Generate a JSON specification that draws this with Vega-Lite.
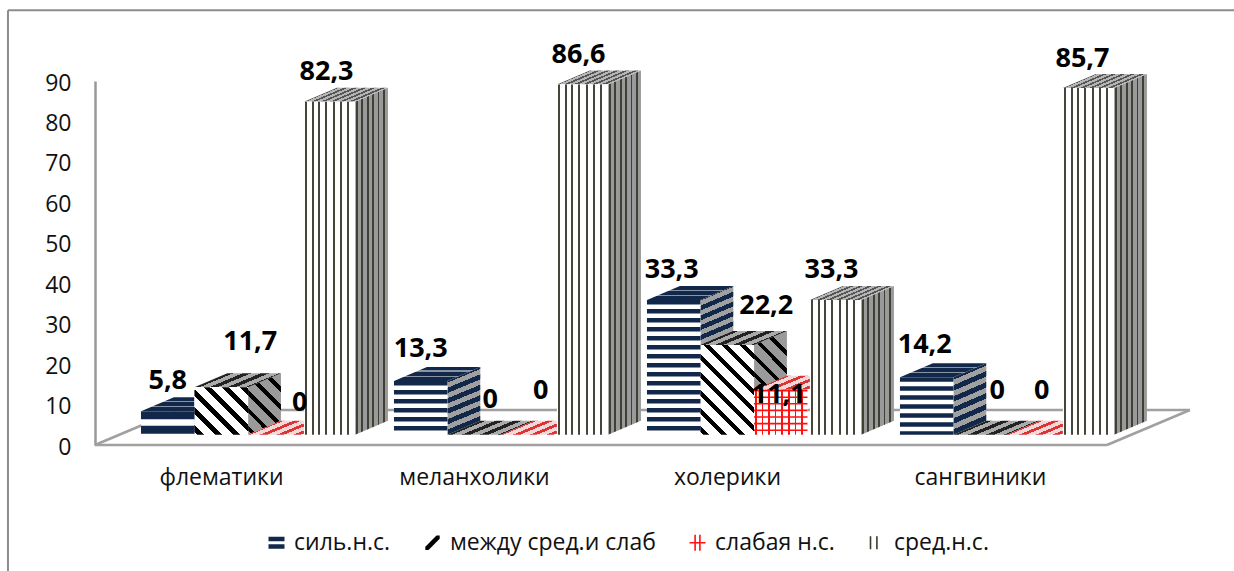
{
"$schema":"https://vega.github.io/schema/vega-lite/v6.json",
"width":1100,"height":364,"autosize":{"type":"none"},
"padding":{"left":95,"top":81,"right":39,"bottom":126},
"background":"white",
"config":{"view":{"stroke":null},"font":"Open Sans"},
"data":{"values":[
{"category":"флематики","series":"силь.н.с.","value":5.8},
{"category":"флематики","series":"между сред.и слаб","value":11.7},
{"category":"флематики","series":"слабая н.с.","value":0},
{"category":"флематики","series":"сред.н.с.","value":82.3},
{"category":"меланхолики","series":"силь.н.с.","value":13.3},
{"category":"меланхолики","series":"между сред.и слаб","value":0},
{"category":"меланхолики","series":"слабая н.с.","value":0},
{"category":"меланхолики","series":"сред.н.с.","value":86.6},
{"category":"холерики","series":"силь.н.с.","value":33.3},
{"category":"холерики","series":"между сред.и слаб","value":22.2},
{"category":"холерики","series":"слабая н.с.","value":11.1},
{"category":"холерики","series":"сред.н.с.","value":33.3},
{"category":"сангвиники","series":"силь.н.с.","value":14.2},
{"category":"сангвиники","series":"между сред.и слаб","value":0},
{"category":"сангвиники","series":"слабая н.с.","value":0},
{"category":"сангвиники","series":"сред.н.с.","value":85.7}
]},
"transform":[
{"calculate":"indexof(['флематики','меланхолики','холерики','сангвиники'],datum.category)","as":"ci"},
{"calculate":"indexof(['силь.н.с.','между сред.и слаб','слабая н.с.','сред.н.с.'],datum.series)","as":"si"},
{"calculate":"datum.ci+[-0.316,-0.105,0.107,0.328][datum.si]","as":"x0"},
{"calculate":"datum.ci+[-0.105,0.107,0.318,0.530][datum.si]","as":"x1"},
{"calculate":"datum.value+2.55","as":"top"},
{"calculate":"2.55","as":"base"},
{"calculate":"(datum.x0+datum.x1)/2","as":"cx"},
{"calculate":"replace(''+datum.value,'.',',')","as":"label"},
{"calculate":"datum.cx+[[0,29,25,-3],[0,16,13,-4],[-2,39,-2,-4],[-2,17,8,-6]][datum.ci][datum.si]/253","as":"lx"},
{"calculate":"datum.top+[[30,45,32,30],[32,35,44,29.5],[30,39,-5,30],[32,44,44,29]][datum.ci][datum.si]/4.044","as":"ly"}
],
"layer":[
{"data":{"values":[{}]},"mark":{"type":"rule","stroke":"#8c8c8c","strokeWidth":2},"encoding":{
"x":{"datum":-0.842,"type":"quantitative","scale":{"domain":[-0.498,3.85],"nice":false,"zero":false},
"axis":{"title":null,"values":[0,1,2,3],"labelExpr":"['флематики','меланхолики','холерики','сангвиники'][datum.value]","ticks":false,"domain":false,"grid":false,"labelPadding":21,"labelFontSize":23,"labelColor":"#111","labelFont":"Open Sans","labelOverlap":false,"labelBound":false,"labelFlush":false}},
"y":{"datum":107.5,"type":"quantitative","scale":{"domain":[0,90],"nice":false,"zero":false},
"axis":{"title":null,"values":[0,10,20,30,40,50,60,70,80,90],"ticks":false,"domain":true,"domainColor":"#999","domainWidth":2.5,"grid":false,"labelPadding":24,"labelFontSize":23,"labelOffset":2,"labelColor":"#111","labelFont":"Open Sans"}},
"x2":{"datum":4.1},"y2":{"datum":107.5}}},
{"data":{"values":[{}]},"mark":{"type":"rule","stroke":"#8c8c8c","strokeWidth":2},"encoding":{"x":{"datum":-0.842,"type":"quantitative"},"x2":{"datum":-0.842},"y":{"datum":107.5,"type":"quantitative"},"y2":{"datum":-32}}},
{"data":{"values":[{}]},"mark":{"type":"rule","stroke":"#a0a0a0","strokeWidth":2.5},"encoding":{"x":{"datum":-0.498,"type":"quantitative"},"x2":{"datum":3.502},"y":{"datum":0,"type":"quantitative"},"y2":{"datum":0}}},
{"data":{"values":[{}]},"mark":{"type":"rule","stroke":"#a0a0a0","strokeWidth":2.5},"encoding":{"x":{"datum":3.502,"type":"quantitative"},"x2":{"datum":3.83},"y":{"datum":0,"type":"quantitative"},"y2":{"datum":8.66}}},
{"data":{"values":[{}]},"mark":{"type":"rule","stroke":"#a0a0a0","strokeWidth":2.5},"encoding":{"x":{"datum":-0.17,"type":"quantitative"},"x2":{"datum":3.83},"y":{"datum":8.66,"type":"quantitative"},"y2":{"datum":8.66}}},
{"data":{"values":[{}]},"mark":{"type":"rule","stroke":"#a0a0a0","strokeWidth":2.5},"encoding":{"x":{"datum":-0.498,"type":"quantitative"},"x2":{"datum":-0.17},"y":{"datum":0,"type":"quantitative"},"y2":{"datum":8.66}}},

{"transform":[{"calculate":"[0,1]","as":"t"},{"flatten":["t"]},{"calculate":"datum.x1+datum.t*0.13","as":"X"},{"calculate":"datum.base+datum.t*3.46","as":"Ya"},{"calculate":"datum.top+datum.t*3.46","as":"Yb"}],
"encoding":{"x":{"field":"X","type":"quantitative"},"y":{"field":"Yb","type":"quantitative"},"y2":{"field":"Ya"},"detail":[{"field":"category"},{"field":"series"}]},
"layer":[
{"transform":[{"filter":"datum.si==0&&datum.value<10"}],"mark":{"type":"area","orient":"vertical","fill":"#12284a"}},
{"transform":[{"filter":"datum.si==0&&datum.value>10&&datum.value<20"}],"mark":{"type":"area","orient":"vertical","fill":{"gradient":"linear","x1":0,"y1":0,"x2":0.231,"y2":1.154,"stops":[
{"offset":0,"color":"#12284a"},{"offset":0.064,"color":"#12284a"},{"offset":0.064,"color":"#a0a0a0"},{"offset":0.129,"color":"#a0a0a0"},{"offset":0.129,"color":"#12284a"},{"offset":0.193,"color":"#12284a"},{"offset":0.193,"color":"#a0a0a0"},{"offset":0.257,"color":"#a0a0a0"},{"offset":0.257,"color":"#12284a"},{"offset":0.321,"color":"#12284a"},{"offset":0.321,"color":"#a0a0a0"},{"offset":0.386,"color":"#a0a0a0"},{"offset":0.386,"color":"#12284a"},{"offset":0.45,"color":"#12284a"},{"offset":0.45,"color":"#a0a0a0"},{"offset":0.514,"color":"#a0a0a0"},{"offset":0.514,"color":"#12284a"},{"offset":0.578,"color":"#12284a"},{"offset":0.578,"color":"#a0a0a0"},{"offset":0.643,"color":"#a0a0a0"},{"offset":0.643,"color":"#12284a"},{"offset":0.707,"color":"#12284a"},{"offset":0.707,"color":"#a0a0a0"},{"offset":0.771,"color":"#a0a0a0"},{"offset":0.771,"color":"#12284a"},{"offset":0.836,"color":"#12284a"},{"offset":0.836,"color":"#a0a0a0"},{"offset":0.9,"color":"#a0a0a0"},{"offset":0.9,"color":"#12284a"},{"offset":0.964,"color":"#12284a"},{"offset":0.964,"color":"#a0a0a0"}]}}},
{"transform":[{"filter":"datum.si==0&&datum.value>20"}],"mark":{"type":"area","orient":"vertical","fill":{"gradient":"linear","x1":0,"y1":0,"x2":0.102,"y2":1.084,"stops":[
{"offset":0,"color":"#12284a"},{"offset":0.03,"color":"#12284a"},{"offset":0.03,"color":"#a0a0a0"},{"offset":0.0605,"color":"#a0a0a0"},{"offset":0.0605,"color":"#12284a"},{"offset":0.0905,"color":"#12284a"},{"offset":0.0905,"color":"#a0a0a0"},{"offset":0.121,"color":"#a0a0a0"},{"offset":0.121,"color":"#12284a"},{"offset":0.151,"color":"#12284a"},{"offset":0.151,"color":"#a0a0a0"},{"offset":0.1815,"color":"#a0a0a0"},{"offset":0.1815,"color":"#12284a"},{"offset":0.2115,"color":"#12284a"},{"offset":0.2115,"color":"#a0a0a0"},{"offset":0.242,"color":"#a0a0a0"},{"offset":0.242,"color":"#12284a"},{"offset":0.272,"color":"#12284a"},{"offset":0.272,"color":"#a0a0a0"},{"offset":0.3025,"color":"#a0a0a0"},{"offset":0.3025,"color":"#12284a"},{"offset":0.3325,"color":"#12284a"},{"offset":0.3325,"color":"#a0a0a0"},{"offset":0.363,"color":"#a0a0a0"},{"offset":0.363,"color":"#12284a"},{"offset":0.393,"color":"#12284a"},{"offset":0.393,"color":"#a0a0a0"},{"offset":0.4235,"color":"#a0a0a0"},{"offset":0.4235,"color":"#12284a"},{"offset":0.4535,"color":"#12284a"},{"offset":0.4535,"color":"#a0a0a0"},{"offset":0.484,"color":"#a0a0a0"},{"offset":0.484,"color":"#12284a"},{"offset":0.514,"color":"#12284a"},{"offset":0.514,"color":"#a0a0a0"},{"offset":0.5445,"color":"#a0a0a0"},{"offset":0.5445,"color":"#12284a"},{"offset":0.5745,"color":"#12284a"},{"offset":0.5745,"color":"#a0a0a0"},{"offset":0.605,"color":"#a0a0a0"},{"offset":0.605,"color":"#12284a"},{"offset":0.635,"color":"#12284a"},{"offset":0.635,"color":"#a0a0a0"},{"offset":0.6655,"color":"#a0a0a0"},{"offset":0.6655,"color":"#12284a"},{"offset":0.6955,"color":"#12284a"},{"offset":0.6955,"color":"#a0a0a0"},{"offset":0.726,"color":"#a0a0a0"},{"offset":0.726,"color":"#12284a"},{"offset":0.756,"color":"#12284a"},{"offset":0.756,"color":"#a0a0a0"},{"offset":0.7865,"color":"#a0a0a0"},{"offset":0.7865,"color":"#12284a"},{"offset":0.8165,"color":"#12284a"},{"offset":0.8165,"color":"#a0a0a0"},{"offset":0.847,"color":"#a0a0a0"},{"offset":0.847,"color":"#12284a"},{"offset":0.877,"color":"#12284a"},{"offset":0.877,"color":"#a0a0a0"},{"offset":0.9075,"color":"#a0a0a0"},{"offset":0.9075,"color":"#12284a"},{"offset":0.9375,"color":"#12284a"},{"offset":0.9375,"color":"#a0a0a0"},{"offset":0.968,"color":"#a0a0a0"},{"offset":0.968,"color":"#12284a"}]}}},
{"transform":[{"filter":"datum.si==1&&datum.value>0&&datum.value<20"}],"mark":{"type":"area","orient":"vertical","fill":{"gradient":"linear","x1":0.179,"y1":1.097,"x2":0.821,"y2":-0.097,"stops":[
{"offset":0.04,"color":"#9a9a9a"},{"offset":0.04,"color":"#000"},{"offset":0.1,"color":"#000"},{"offset":0.1,"color":"#9a9a9a"},{"offset":0.23,"color":"#9a9a9a"},{"offset":0.23,"color":"#000"},{"offset":0.29,"color":"#000"},{"offset":0.29,"color":"#9a9a9a"},{"offset":0.42,"color":"#9a9a9a"},{"offset":0.42,"color":"#000"},{"offset":0.48,"color":"#000"},{"offset":0.48,"color":"#9a9a9a"},{"offset":0.61,"color":"#9a9a9a"},{"offset":0.61,"color":"#000"},{"offset":0.67,"color":"#000"},{"offset":0.67,"color":"#9a9a9a"},{"offset":0.8,"color":"#9a9a9a"},{"offset":0.8,"color":"#000"},{"offset":0.86,"color":"#000"},{"offset":0.86,"color":"#9a9a9a"}]}}},
{"transform":[{"filter":"datum.si==1&&datum.value>20"}],"mark":{"type":"area","orient":"vertical","fill":{"gradient":"linear","x1":0.31,"y1":1.099,"x2":0.69,"y2":-0.099,"stops":[
{"offset":0.03,"color":"#9a9a9a"},{"offset":0.03,"color":"#000"},{"offset":0.071,"color":"#000"},{"offset":0.071,"color":"#9a9a9a"},{"offset":0.161,"color":"#9a9a9a"},{"offset":0.161,"color":"#000"},{"offset":0.202,"color":"#000"},{"offset":0.202,"color":"#9a9a9a"},{"offset":0.292,"color":"#9a9a9a"},{"offset":0.292,"color":"#000"},{"offset":0.333,"color":"#000"},{"offset":0.333,"color":"#9a9a9a"},{"offset":0.423,"color":"#9a9a9a"},{"offset":0.423,"color":"#000"},{"offset":0.464,"color":"#000"},{"offset":0.464,"color":"#9a9a9a"},{"offset":0.554,"color":"#9a9a9a"},{"offset":0.554,"color":"#000"},{"offset":0.595,"color":"#000"},{"offset":0.595,"color":"#9a9a9a"},{"offset":0.685,"color":"#9a9a9a"},{"offset":0.685,"color":"#000"},{"offset":0.726,"color":"#000"},{"offset":0.726,"color":"#9a9a9a"},{"offset":0.816,"color":"#9a9a9a"},{"offset":0.816,"color":"#000"},{"offset":0.857,"color":"#000"},{"offset":0.857,"color":"#9a9a9a"}]}}},
{"transform":[{"filter":"datum.si==3"}],"mark":{"type":"area","orient":"vertical","fill":{"gradient":"linear","x1":0,"y1":0,"x2":1,"y2":0,"stops":[
{"offset":0.03,"color":"#9a9a9a"},{"offset":0.03,"color":"#3f3f35"},{"offset":0.085,"color":"#3f3f35"},{"offset":0.085,"color":"#9a9a9a"},{"offset":0.194,"color":"#9a9a9a"},{"offset":0.194,"color":"#3f3f35"},{"offset":0.249,"color":"#3f3f35"},{"offset":0.249,"color":"#9a9a9a"},{"offset":0.358,"color":"#9a9a9a"},{"offset":0.358,"color":"#3f3f35"},{"offset":0.413,"color":"#3f3f35"},{"offset":0.413,"color":"#9a9a9a"},{"offset":0.522,"color":"#9a9a9a"},{"offset":0.522,"color":"#3f3f35"},{"offset":0.577,"color":"#3f3f35"},{"offset":0.577,"color":"#9a9a9a"},{"offset":0.686,"color":"#9a9a9a"},{"offset":0.686,"color":"#3f3f35"},{"offset":0.741,"color":"#3f3f35"},{"offset":0.741,"color":"#9a9a9a"},{"offset":0.85,"color":"#9a9a9a"},{"offset":0.85,"color":"#3f3f35"},{"offset":0.905,"color":"#3f3f35"},{"offset":0.905,"color":"#9a9a9a"}]}}}
]},

{"transform":[{"calculate":"[0,1]","as":"t"},{"flatten":["t"]},{"calculate":"datum.x0+datum.t*0.13","as":"Xa"},{"calculate":"datum.x1+datum.t*0.13","as":"Xb"},{"calculate":"datum.top+datum.t*3.46","as":"Y"}],
"encoding":{"x":{"field":"Xa","type":"quantitative"},"x2":{"field":"Xb"},"y":{"field":"Y","type":"quantitative"},"detail":[{"field":"category"},{"field":"series"}]},
"layer":[
{"transform":[{"filter":"datum.si==0"}],"mark":{"type":"area","orient":"horizontal","fill":{"gradient":"linear","x1":0,"y1":0,"x2":0,"y2":1,"stops":[
{"offset":0.25,"color":"#12284a"},{"offset":0.25,"color":"#8a93a3"},{"offset":0.33,"color":"#8a93a3"},{"offset":0.33,"color":"#12284a"},{"offset":0.62,"color":"#12284a"},{"offset":0.62,"color":"#8a93a3"},{"offset":0.7,"color":"#8a93a3"},{"offset":0.7,"color":"#12284a"}]}}},
{"transform":[{"filter":"datum.si==1"}],"mark":{"type":"area","orient":"horizontal","fill":{"gradient":"linear","x1":0,"y1":0,"x2":1.207,"y2":0.471,"stops":[
{"offset":0.1,"color":"#aaa"},{"offset":0.1,"color":"#222"},{"offset":0.17,"color":"#222"},{"offset":0.17,"color":"#aaa"},{"offset":0.25,"color":"#aaa"},{"offset":0.25,"color":"#222"},{"offset":0.32,"color":"#222"},{"offset":0.32,"color":"#aaa"},{"offset":0.4,"color":"#aaa"},{"offset":0.4,"color":"#222"},{"offset":0.47,"color":"#222"},{"offset":0.47,"color":"#aaa"},{"offset":0.55,"color":"#aaa"},{"offset":0.55,"color":"#222"},{"offset":0.62,"color":"#222"},{"offset":0.62,"color":"#aaa"},{"offset":0.7,"color":"#aaa"},{"offset":0.7,"color":"#222"},{"offset":0.77,"color":"#222"},{"offset":0.77,"color":"#aaa"},{"offset":0.85,"color":"#aaa"},{"offset":0.85,"color":"#222"},{"offset":0.92,"color":"#222"},{"offset":0.92,"color":"#aaa"}]}}},
{"transform":[{"filter":"datum.si==2"}],"mark":{"type":"area","orient":"horizontal","fill":{"gradient":"linear","x1":0,"y1":0,"x2":1.207,"y2":0.471,"stops":[
{"offset":0.1,"color":"#f2d8d8"},{"offset":0.1,"color":"#d33"},{"offset":0.16,"color":"#d33"},{"offset":0.16,"color":"#f2d8d8"},{"offset":0.24,"color":"#f2d8d8"},{"offset":0.24,"color":"#d33"},{"offset":0.3,"color":"#d33"},{"offset":0.3,"color":"#f2d8d8"},{"offset":0.38,"color":"#f2d8d8"},{"offset":0.38,"color":"#d33"},{"offset":0.44,"color":"#d33"},{"offset":0.44,"color":"#f2d8d8"},{"offset":0.52,"color":"#f2d8d8"},{"offset":0.52,"color":"#d33"},{"offset":0.58,"color":"#d33"},{"offset":0.58,"color":"#f2d8d8"},{"offset":0.66,"color":"#f2d8d8"},{"offset":0.66,"color":"#d33"},{"offset":0.72,"color":"#d33"},{"offset":0.72,"color":"#f2d8d8"},{"offset":0.8,"color":"#f2d8d8"},{"offset":0.8,"color":"#d33"},{"offset":0.86,"color":"#d33"},{"offset":0.86,"color":"#f2d8d8"}]}}},
{"transform":[{"filter":"datum.si==3"}],"mark":{"type":"area","orient":"horizontal","fill":{"gradient":"linear","x1":0,"y1":0,"x2":1.207,"y2":0.471,"stops":[
{"offset":0.1,"color":"#b5b5b5"},{"offset":0.1,"color":"#555"},{"offset":0.135,"color":"#555"},{"offset":0.135,"color":"#b5b5b5"},{"offset":0.18,"color":"#b5b5b5"},{"offset":0.18,"color":"#555"},{"offset":0.215,"color":"#555"},{"offset":0.215,"color":"#b5b5b5"},{"offset":0.26,"color":"#b5b5b5"},{"offset":0.26,"color":"#555"},{"offset":0.295,"color":"#555"},{"offset":0.295,"color":"#b5b5b5"},{"offset":0.34,"color":"#b5b5b5"},{"offset":0.34,"color":"#555"},{"offset":0.375,"color":"#555"},{"offset":0.375,"color":"#b5b5b5"},{"offset":0.42,"color":"#b5b5b5"},{"offset":0.42,"color":"#555"},{"offset":0.455,"color":"#555"},{"offset":0.455,"color":"#b5b5b5"},{"offset":0.5,"color":"#b5b5b5"},{"offset":0.5,"color":"#555"},{"offset":0.535,"color":"#555"},{"offset":0.535,"color":"#b5b5b5"},{"offset":0.58,"color":"#b5b5b5"},{"offset":0.58,"color":"#555"},{"offset":0.615,"color":"#555"},{"offset":0.615,"color":"#b5b5b5"},{"offset":0.66,"color":"#b5b5b5"},{"offset":0.66,"color":"#555"},{"offset":0.695,"color":"#555"},{"offset":0.695,"color":"#b5b5b5"},{"offset":0.74,"color":"#b5b5b5"},{"offset":0.74,"color":"#555"},{"offset":0.775,"color":"#555"},{"offset":0.775,"color":"#b5b5b5"},{"offset":0.82,"color":"#b5b5b5"},{"offset":0.82,"color":"#555"},{"offset":0.855,"color":"#555"},{"offset":0.855,"color":"#b5b5b5"}]}}}
]},

{"transform":[{"filter":"datum.value>0"}],
"encoding":{"x":{"field":"x0","type":"quantitative"},"x2":{"field":"x1"},"y":{"field":"top","type":"quantitative"},"y2":{"field":"base"}},
"layer":[
{"mark":{"type":"rect","fill":"#fff"}},
{"transform":[{"filter":"datum.si==1&&datum.value<20"}],"mark":{"type":"rect","fill":{"gradient":"linear","x1":-0.029,"y1":0.968,"x2":1.029,"y2":0.032,"stops":[
{"offset":0.03,"color":"#fff"},{"offset":0.03,"color":"#000"},{"offset":0.093,"color":"#000"},{"offset":0.093,"color":"#fff"},{"offset":0.208,"color":"#fff"},{"offset":0.208,"color":"#000"},{"offset":0.271,"color":"#000"},{"offset":0.271,"color":"#fff"},{"offset":0.386,"color":"#fff"},{"offset":0.386,"color":"#000"},{"offset":0.449,"color":"#000"},{"offset":0.449,"color":"#fff"},{"offset":0.564,"color":"#fff"},{"offset":0.564,"color":"#000"},{"offset":0.627,"color":"#000"},{"offset":0.627,"color":"#fff"},{"offset":0.742,"color":"#fff"},{"offset":0.742,"color":"#000"},{"offset":0.805,"color":"#000"},{"offset":0.805,"color":"#fff"},{"offset":0.92,"color":"#fff"},{"offset":0.92,"color":"#000"},{"offset":0.983,"color":"#000"},{"offset":0.983,"color":"#fff"}]}}},
{"transform":[{"filter":"datum.si==1&&datum.value>20"}],"mark":{"type":"rect","fill":{"gradient":"linear","x1":0.149,"y1":1.089,"x2":0.851,"y2":-0.089,"stops":[
{"offset":0.02,"color":"#fff"},{"offset":0.02,"color":"#000"},{"offset":0.064,"color":"#000"},{"offset":0.064,"color":"#fff"},{"offset":0.145,"color":"#fff"},{"offset":0.145,"color":"#000"},{"offset":0.189,"color":"#000"},{"offset":0.189,"color":"#fff"},{"offset":0.27,"color":"#fff"},{"offset":0.27,"color":"#000"},{"offset":0.314,"color":"#000"},{"offset":0.314,"color":"#fff"},{"offset":0.395,"color":"#fff"},{"offset":0.395,"color":"#000"},{"offset":0.439,"color":"#000"},{"offset":0.439,"color":"#fff"},{"offset":0.52,"color":"#fff"},{"offset":0.52,"color":"#000"},{"offset":0.564,"color":"#000"},{"offset":0.564,"color":"#fff"},{"offset":0.645,"color":"#fff"},{"offset":0.645,"color":"#000"},{"offset":0.689,"color":"#000"},{"offset":0.689,"color":"#fff"},{"offset":0.77,"color":"#fff"},{"offset":0.77,"color":"#000"},{"offset":0.814,"color":"#000"},{"offset":0.814,"color":"#fff"},{"offset":0.895,"color":"#fff"},{"offset":0.895,"color":"#000"},{"offset":0.939,"color":"#000"},{"offset":0.939,"color":"#fff"}]}}},
{"transform":[{"filter":"datum.si==2"}],"mark":{"type":"rect","fill":{"gradient":"linear","x1":0,"y1":0,"x2":1,"y2":0,"stops":[
{"offset":0.02,"color":"#fff"},{"offset":0.02,"color":"#f11"},{"offset":0.05,"color":"#f11"},{"offset":0.05,"color":"#fff"},{"offset":0.143,"color":"#fff"},{"offset":0.143,"color":"#f11"},{"offset":0.173,"color":"#f11"},{"offset":0.173,"color":"#fff"},{"offset":0.266,"color":"#fff"},{"offset":0.266,"color":"#f11"},{"offset":0.296,"color":"#f11"},{"offset":0.296,"color":"#fff"},{"offset":0.389,"color":"#fff"},{"offset":0.389,"color":"#f11"},{"offset":0.419,"color":"#f11"},{"offset":0.419,"color":"#fff"},{"offset":0.512,"color":"#fff"},{"offset":0.512,"color":"#f11"},{"offset":0.542,"color":"#f11"},{"offset":0.542,"color":"#fff"},{"offset":0.635,"color":"#fff"},{"offset":0.635,"color":"#f11"},{"offset":0.665,"color":"#f11"},{"offset":0.665,"color":"#fff"},{"offset":0.758,"color":"#fff"},{"offset":0.758,"color":"#f11"},{"offset":0.788,"color":"#f11"},{"offset":0.788,"color":"#fff"},{"offset":0.881,"color":"#fff"},{"offset":0.881,"color":"#f11"},{"offset":0.911,"color":"#f11"},{"offset":0.911,"color":"#fff"}]}}},
{"transform":[{"filter":"datum.si==3"}],"mark":{"type":"rect","fill":{"gradient":"linear","x1":0,"y1":0,"x2":1,"y2":0,"stops":[
{"offset":0.02,"color":"#fff"},{"offset":0.02,"color":"#45453a"},{"offset":0.06,"color":"#45453a"},{"offset":0.06,"color":"#fff"},{"offset":0.15,"color":"#fff"},{"offset":0.15,"color":"#45453a"},{"offset":0.19,"color":"#45453a"},{"offset":0.19,"color":"#fff"},{"offset":0.28,"color":"#fff"},{"offset":0.28,"color":"#45453a"},{"offset":0.32,"color":"#45453a"},{"offset":0.32,"color":"#fff"},{"offset":0.42,"color":"#fff"},{"offset":0.42,"color":"#45453a"},{"offset":0.46,"color":"#45453a"},{"offset":0.46,"color":"#fff"},{"offset":0.56,"color":"#fff"},{"offset":0.56,"color":"#45453a"},{"offset":0.6,"color":"#45453a"},{"offset":0.6,"color":"#fff"},{"offset":0.7,"color":"#fff"},{"offset":0.7,"color":"#45453a"},{"offset":0.74,"color":"#45453a"},{"offset":0.74,"color":"#fff"},{"offset":0.84,"color":"#fff"},{"offset":0.84,"color":"#45453a"},{"offset":0.88,"color":"#45453a"},{"offset":0.88,"color":"#fff"}]}}}
]},

{"transform":[{"filter":"datum.si==0&&datum.value>=10"}],"mark":{"type":"rule","stroke":"#12284a","strokeWidth":53.5,"strokeDash":[4.5,4.5]},"encoding":{"x":{"field":"cx","type":"quantitative"},"y":{"field":"top","type":"quantitative"},"y2":{"field":"base"}}},
{"transform":[{"filter":"datum.si==0&&datum.value<10"}],"mark":{"type":"rule","stroke":"#12284a","strokeWidth":53.5,"strokeDash":[8,6.5]},"encoding":{"x":{"field":"cx","type":"quantitative"},"y":{"field":"top","type":"quantitative"},"y2":{"field":"base"}}},
{"transform":[{"filter":"datum.si==2&&datum.value>0"}],"mark":{"type":"rule","stroke":"#f11","strokeWidth":53.5,"strokeDash":[1.6,5]},"encoding":{"x":{"field":"cx","type":"quantitative"},"y":{"field":"top","type":"quantitative"},"y2":{"field":"base"}}},

{"mark":{"type":"text","font":"Open Sans","fontWeight":"bold","fontSize":27,"color":"#000","align":"center","baseline":"middle"},"encoding":{"x":{"field":"lx","type":"quantitative"},"y":{"field":"ly","type":"quantitative"},"text":{"field":"label"}}},

{"mark":{"type":"point","filled":true,"size":0,"opacity":1},"encoding":{
"x":{"field":"x0","type":"quantitative"},"y":{"field":"top","type":"quantitative"},
"color":{"field":"series","type":"nominal","scale":{"domain":["силь.н.с.","между сред.и слаб","слабая н.с.","сред.н.с."],"range":["#12284a","#000000","#ff1111","#3a3a2e"]},
"legend":{"title":null,"orient":"none","legendX":170,"legendY":450,"direction":"horizontal","columns":4,"symbolSize":256,"symbolOpacity":1,"symbolStrokeWidth":0,"labelFont":"Open Sans","labelFontSize":23,"labelColor":"#111","labelOffset":6,"columnPadding":30,"padding":0,"labelLimit":400}},
"shape":{"field":"series","type":"nominal","scale":{"domain":["силь.н.с.","между сред.и слаб","слабая н.с.","сред.н.с."],"range":["M-1,-0.75H1V-0.2H-1Z M-1,0.2H1V0.75H-1Z","M-0.9,0.9L-0.5,0.9L0.9,-0.5L0.9,-0.9L0.5,-0.9L-0.9,0.5Z","M-1,-0.1H1V0.1H-1Z M-0.4,-1H-0.2V1H-0.4Z M0.2,-1H0.4V1H0.2Z","M-0.85,-0.8H-0.65V0.8H-0.85Z M-0.05,-0.8H0.15V0.8H-0.05Z"]}}
}}
]
}
